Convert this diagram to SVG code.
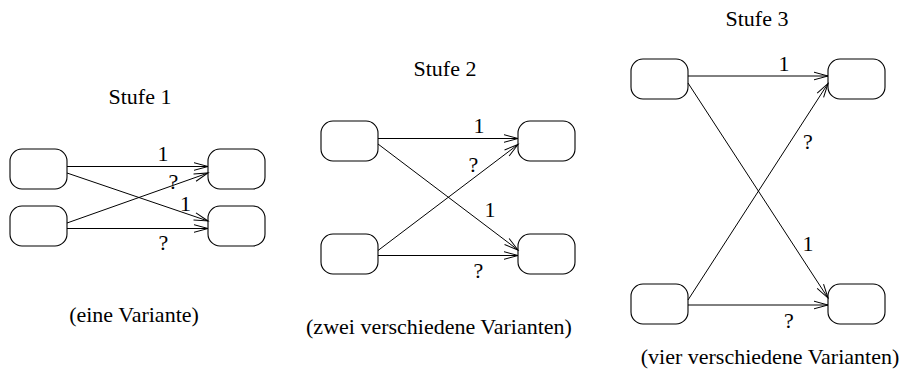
<svg xmlns="http://www.w3.org/2000/svg" width="904" height="376" viewBox="0 0 904 376">
<style>
.box{fill:#fff;stroke:#000;stroke-width:1.1}
.c line{stroke:#000;stroke-width:1;marker-end:url(#ah)}
</style>
<defs>
<marker id="ah" viewBox="-16 -6 18 12" markerWidth="18" markerHeight="12" refX="0" refY="0" orient="auto" markerUnits="userSpaceOnUse">
<path d="M-14,-3.8 L0,0 L-14,3.8" fill="none" stroke="#000" stroke-width="1"/>
</marker>
</defs>
<rect width="904" height="376" fill="#fff"/>

<g id="s1a"><rect class="box" x="10" y="149" width="57" height="40" rx="12"/></g>
<g id="s1b"><rect class="box" x="10" y="206" width="57" height="40" rx="12"/></g>
<g id="s1c"><rect class="box" x="208" y="149" width="57" height="40" rx="12"/></g>
<g id="s1d"><rect class="box" x="208" y="206" width="57" height="40" rx="12"/></g>
<g id="s2a"><rect class="box" x="321" y="121" width="57" height="40" rx="12"/></g>
<g id="s2b"><rect class="box" x="321" y="234" width="57" height="40" rx="12"/></g>
<g id="s2c"><rect class="box" x="518" y="121" width="57" height="40" rx="12"/></g>
<g id="s2d"><rect class="box" x="518" y="234" width="57" height="40" rx="12"/></g>
<g id="s3a"><rect class="box" x="631" y="59" width="57" height="40" rx="12"/></g>
<g id="s3b"><rect class="box" x="631" y="284" width="57" height="40" rx="12"/></g>
<g id="s3c"><rect class="box" x="828" y="59" width="57" height="40" rx="12"/></g>
<g id="s3d"><rect class="box" x="828" y="284" width="57" height="40" rx="12"/></g>

<g class="c" id="connectors">
<line x1="67" y1="166.5" x2="208" y2="166.5"/>
<line x1="67" y1="173" x2="208" y2="221"/>
<line x1="67" y1="223" x2="208" y2="173"/>
<line x1="67" y1="228.5" x2="208" y2="228.5"/>
<line x1="378" y1="138.5" x2="518" y2="138.5"/>
<line x1="378" y1="144" x2="518" y2="250"/>
<line x1="378" y1="250.5" x2="518" y2="144.5"/>
<line x1="378" y1="255.5" x2="518" y2="255.5"/>
<line x1="688" y1="76" x2="828" y2="76"/>
<line x1="688" y1="83" x2="828" y2="298"/>
<line x1="688" y1="300" x2="828" y2="83.5"/>
<line x1="688" y1="305" x2="828" y2="305"/>
</g>

<g id="labels" font-family="'Liberation Serif', 'Times New Roman', Times, serif" font-size="22" fill="#000" text-anchor="middle">
<text x="140" y="104">Stufe 1</text>
<text x="163" y="161">1</text>
<text x="173.5" y="189">?</text>
<text x="185.5" y="211">1</text>
<text x="163.5" y="250">?</text>
<text x="134" y="322">(eine Variante)</text>
<text x="445" y="76">Stufe 2</text>
<text x="479" y="133">1</text>
<text x="473.5" y="172">?</text>
<text x="490" y="217">1</text>
<text x="478.5" y="278">?</text>
<text x="439" y="334">(zwei verschiedene Varianten)</text>
<text x="757" y="26">Stufe 3</text>
<text x="784" y="71">1</text>
<text x="808" y="149">?</text>
<text x="808" y="251">1</text>
<text x="789" y="328">?</text>
<text x="770" y="364">(vier verschiedene Varianten)</text>
</g>
</svg>
